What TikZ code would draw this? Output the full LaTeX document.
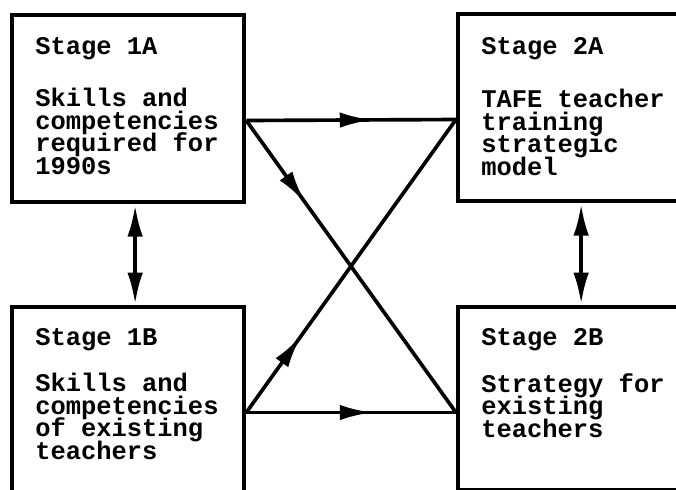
\documentclass[tikz,border=0pt]{standalone}
\usepackage{fontspec}
\setmonofont{Liberation Mono}
\usetikzlibrary{arrows.meta,calc,decorations.markings}
\newcommand\tightlines{\lineskiplimit=-20pt\relax}
\tikzset{
  stagebox/.style={draw,line width=3pt,rectangle,anchor=north west,inner sep=0pt,
    minimum width=5.8cm,minimum height=4.675cm},
  stagetext/.style={anchor=base west,align=left,inner sep=0pt,
    font=\fontsize{18.1pt}{16pt}\selectfont\ttfamily\bfseries\tightlines},
  link/.style={line width=2.6pt},
  midarrow/.style={postaction={decorate},decoration={markings,
    mark=at position #1 with {\arrow{Latex[length=23pt,width=11pt]}}}},
  twoway/.style={line width=3pt,{Latex[length=23pt,width=11pt]}-{Latex[length=23pt,width=11pt]}}
}
\begin{document}
\begin{tikzpicture}[x=0.025cm,y=-0.025cm]
\clip (0,0) rectangle (676,489);
\node[stagebox] (S1A) at (10,13) {};
\node[stagebox] (S2A) at (456,12) {};
\node[stagebox] (S1B) at (10,305) {};
\node[stagebox,minimum height=4.575cm] (S2B) at (456,305) {};
% titles and texts
\node[stagetext] (T1A) at ($(S1A.north west)+(25,41)$) {Stage 1A};
\node[stagetext] (X1A) at ($(S1A.north west)+(25,161)$) {Skills and\\competencies\\required for\\1990s};
\node[stagetext] (T2A) at ($(S2A.north west)+(25,42)$) {Stage 2A};
\node[stagetext] (X2A) at ($(S2A.north west)+(25,163)$) {TAFE teacher\\training\\strategic\\model};
\node[stagetext] (T1B) at ($(S1B.north west)+(25,40)$) {Stage 1B};
\node[stagetext] (X1B) at ($(S1B.north west)+(25,154)$) {Skills and\\competencies\\of existing\\teachers};
\node[stagetext] (T2B) at ($(S2B.north west)+(25,40)$) {Stage 2B};
\node[stagetext] (X2B) at ($(S2B.north west)+(25,132)$) {Strategy for\\existing\\teachers};
% connection points
\coordinate (A1) at ($(S1A.north east)+(0,107.5)$);
\coordinate (A2) at ($(S2A.north west)+(0,107.5)$);
\coordinate (B1) at ($(S1B.north east)+(0,107.5)$);
\coordinate (B2) at ($(S2B.north west)+(0,107.5)$);
\draw[link,midarrow=0.6] (A1) -- (A2);
\draw[link,midarrow=0.28] (A1) -- (B2);
\draw[link,midarrow=0.6] (B1) -- (B2);
\draw[link,midarrow=0.26] (B1) -- (A2);
\draw[twoway] ($(S1A.south)+(7,0)$) -- ($(S1B.north)+(7,0)$);
\draw[twoway] ($(S2A.south)+(7,0)$) -- ($(S2B.north)+(7,0)$);
\end{tikzpicture}
\end{document}
